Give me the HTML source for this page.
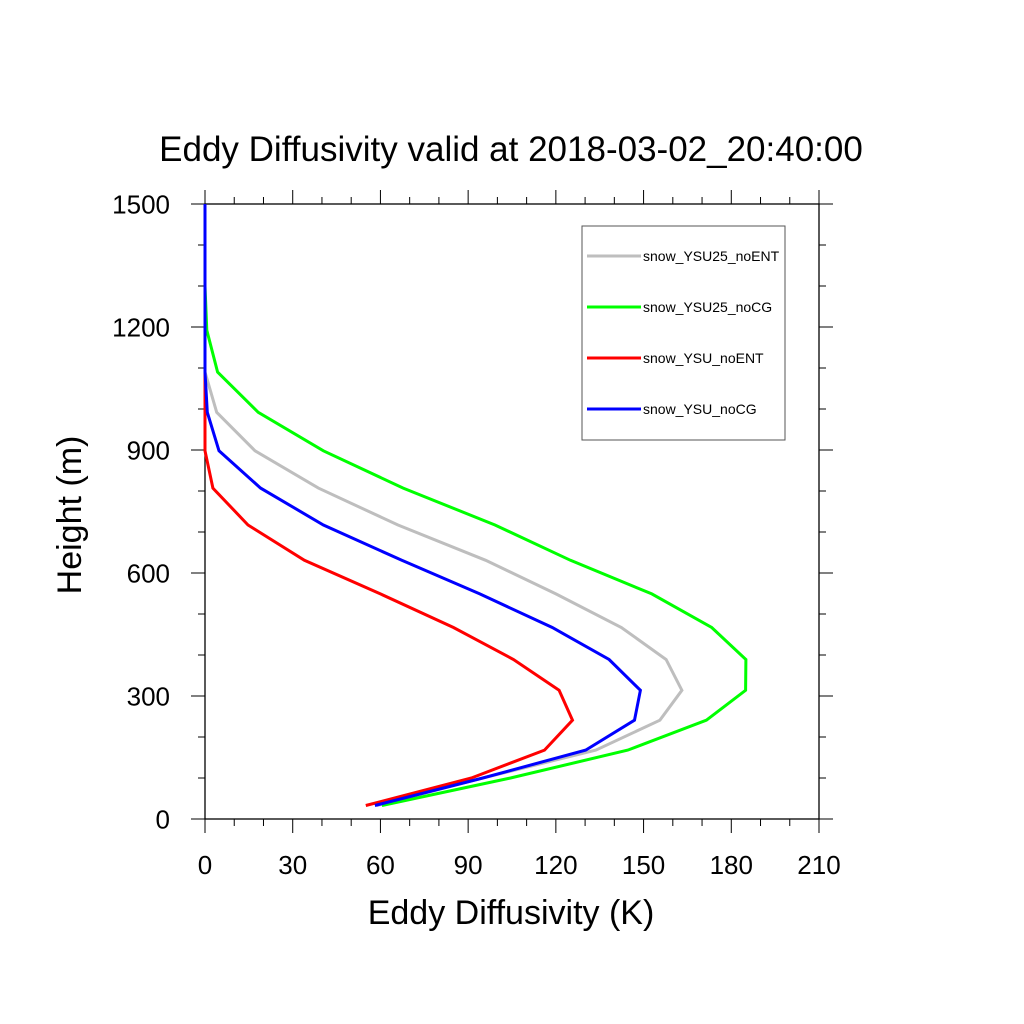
<!DOCTYPE html>
<html><head><meta charset="utf-8"><style>
body{margin:0;background:#fff}
svg{display:block;font-family:"Liberation Sans",sans-serif}
</style></head><body>
<svg id="chart" width="1024" height="1024" viewBox="0 0 1024 1024">
<rect width="1024" height="1024" fill="#fff"/>
<text x="511" y="161" text-anchor="middle" font-size="35">Eddy Diffusivity valid at 2018-03-02_20:40:00</text>
<g id="axes"></g>
<g id="series"></g>
<g id="legend"></g>
<text x="511" y="924" text-anchor="middle" font-size="34">Eddy Diffusivity (K)</text>
<text transform="translate(81,515) rotate(-90)" text-anchor="middle" font-size="34">Height (m)</text>
</svg>
<script>
const heights = [33,100,168,241,314,389,467,549,631,717,807,898,992,1090,1192,1300,1410,1500];
const seriesNames = ["snow_YSU25_noENT","snow_YSU25_noCG","snow_YSU_noENT","snow_YSU_noCG"];
const seriesColors = ["#bebebe","#00ff00","#ff0000","#0000ff"];
const grayVals  = [58.8,95,133.7,155.6,163.1,157.7,142.4,120,96,66,38.8,17.1,4,0,0,0,0,0];
const greenVals = [60.5,104.5,144.6,171.5,184.9,185,173.3,152.8,125,99.2,67.8,40.5,18.2,4.3,0.6,0,0,0];
const redVals   = [55,91.1,116.1,125.7,121.1,105.5,85,60,34,14.7,2.7,0,0,0,0,0,0,0];
const blueVals  = [58.1,95,130.2,146.9,148.9,138.2,118.8,94,67.3,40.5,19,4.8,0.8,0,0,0,0,0];
const xTicks = [0,30,60,90,120,150,180,210];
const yTicks = [0,300,600,900,1200,1500];

const L=205,R=819,T=204,B=819;
const xs=v=>L+(v-0)/210*(R-L);
const ys=v=>B-(v-0)/1500*(B-T);
const NS="http://www.w3.org/2000/svg";
function mk(tag,attrs,parent){const e=document.createElementNS(NS,tag);for(const k in attrs)e.setAttribute(k,attrs[k]);parent.appendChild(e);return e;}
const ax=document.getElementById('axes');
const frame=mk('rect',{x:L,y:T,width:R-L,height:B-T,fill:'none',stroke:'#000','stroke-width':1.3},ax);


for(let v=0;v<=210;v+=10){
  const major=v%30===0, len=major?14:7, x=xs(v);
  const t1=mk('line',{x1:x,y1:B,x2:x,y2:B+len,stroke:'#000','stroke-width':1},ax);
  
  
  const t2=mk('line',{x1:x,y1:T,x2:x,y2:T-len,stroke:'#000','stroke-width':1},ax);
  
  
}
for(let v=0;v<=1500;v+=100){
  const major=v%300===0, len=major?14:7, y=ys(v);
  const t1=mk('line',{x1:L,y1:y,x2:L-len,y2:y,stroke:'#000','stroke-width':1},ax);
  
  
  const t2=mk('line',{x1:R,y1:y,x2:R+len,y2:y,stroke:'#000','stroke-width':1},ax);
  
  
}
xTicks.forEach(v=>{const t=mk('text',{x:xs(v),y:874,'text-anchor':'middle','font-size':26},ax);t.textContent=v;
  
  });
yTicks.forEach(v=>{const t=mk('text',{x:170,y:ys(v)+9.5,'text-anchor':'end','font-size':26},ax);t.textContent=v;
  
  });
const sg=document.getElementById('series');
[grayVals,greenVals,redVals,blueVals].forEach((vals,i)=>{
  const pts=vals.map((v,j)=>xs(v).toFixed(1)+','+ys(heights[j]).toFixed(1)).join(' ');
  const p=mk('polyline',{points:pts,fill:'none',stroke:seriesColors[i],'stroke-width':3,'stroke-linejoin':'miter'},sg);
  
  
});
const lg=document.getElementById('legend');
const box=mk('rect',{x:582,y:226,width:203,height:214,fill:'#fff',stroke:'#555','stroke-width':1},lg);


seriesNames.forEach((n,i)=>{
  const y=256+i*51;
  const l=mk('line',{x1:587,y1:y,x2:641,y2:y,stroke:seriesColors[i],'stroke-width':3},lg);
  
  
  const t=mk('text',{x:643,y:y+5,'font-size':14},lg);t.textContent=n;
  
  
});
</script>
</body></html>
